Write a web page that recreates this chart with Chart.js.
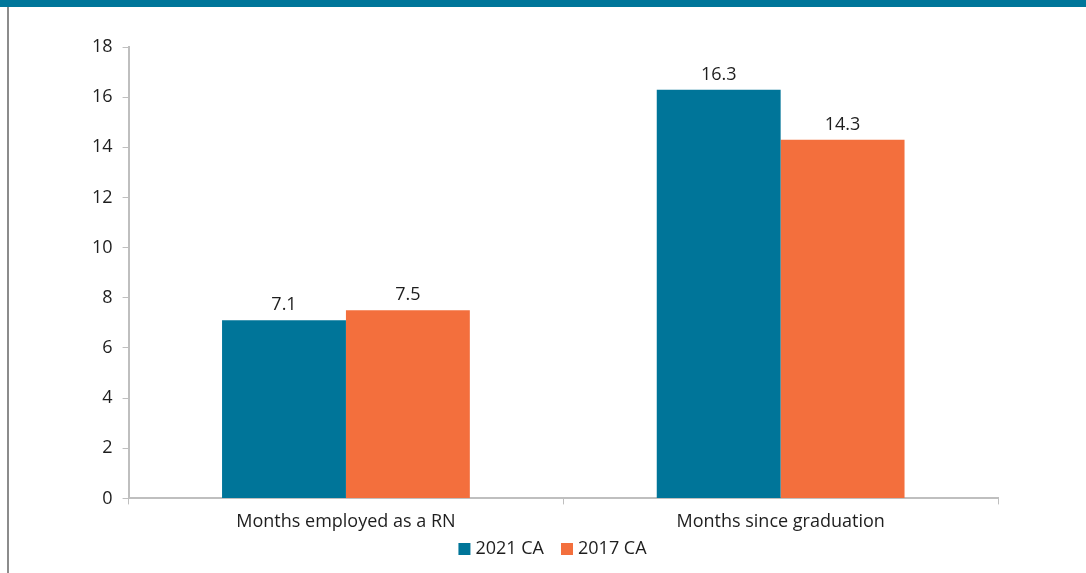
<!DOCTYPE html>
<html>
<head>
<meta charset="utf-8">
<script src="https://cdn.jsdelivr.net/npm/chart.js@4/dist/chart.umd.min.js"></script>
<style>
  html, body { margin: 0; padding: 0; background: #fff; }
  #band { height: 7px; background: #00769a; }
  #frame { position: absolute; top: 7px; left: 7px; width: 1079px; height: 566px; border-left: 2px solid #8c8c8c; }
  #wrap { position: relative; width: 1077px; height: 566px; }
</style>
</head>
<body>
<div id="band"></div>
<div id="frame">
  <div id="wrap"><canvas id="chart"></canvas></div>
</div>
<script>
const categories = ['Months employed as a RN', 'Months since graduation'];
const series2021 = [7.1, 16.3];
const series2017 = [7.5, 14.3];
const seriesNames = ['2021 CA', '2017 CA'];
const yTicks = [0, 2, 4, 6, 8, 10, 12, 14, 16, 18];

const FONT = "'Open Sans', 'Liberation Sans', sans-serif";
const FSIZE = 18;
const axisColor = '#bfbfbf';
const textColor = '#1e1e1e';

// valeurs au-dessus des barres
const barLabels = {
  id: 'barLabels',
  afterDatasetsDraw(chart) {
    const ctx = chart.ctx;
    ctx.save();
    ctx.font = FSIZE + 'px ' + FONT;
    ctx.fillStyle = textColor;
    ctx.textAlign = 'center';
    ctx.textBaseline = 'alphabetic';
    chart.data.datasets.forEach((ds, i) => {
      chart.getDatasetMeta(i).data.forEach((bar, j) => {
        ctx.fillText(ds.data[j].toFixed(1), bar.x, bar.y - 10);
      });
    });
    ctx.restore();
  }
};

// légende en bas, dessinée à la main pour caler la position
const bottomLegend = {
  id: 'bottomLegend',
  afterDraw(chart) {
    const ctx = chart.ctx;
    ctx.save();
    ctx.font = FSIZE + 'px ' + FONT;
    ctx.textBaseline = 'middle';
    ctx.textAlign = 'left';
    const box = 12, gapText = 5, gapItem = 17;
    const items = chart.data.datasets.map(ds => ({ text: ds.label, color: ds.backgroundColor, w: ctx.measureText(ds.label).width }));
    let total = 0;
    items.forEach((it, i) => { total += box + gapText + it.w + (i < items.length - 1 ? gapItem : 0); });
    let x = chart.width / 2 + 5 - total / 2;
    const y = 542;
    items.forEach(it => {
      ctx.fillStyle = it.color;
      ctx.fillRect(x, y - box / 2, box, box);
      x += box + gapText;
      ctx.fillStyle = textColor;
      ctx.fillText(it.text, x, y);
      x += it.w + gapItem;
    });
    ctx.restore();
  }
};

new Chart(document.getElementById('chart'), {
  type: 'bar',
  data: {
    labels: categories,
    datasets: [
      { label: seriesNames[0], data: series2021, backgroundColor: '#007599' },
      { label: seriesNames[1], data: series2017, backgroundColor: '#f36f3d' }
    ]
  },
  options: {
    responsive: true,
    maintainAspectRatio: false,
    animation: false,
    layout: { padding: { top: 40, right: 88, left: 73, bottom: 33 } },
    datasets: { bar: { barPercentage: 1, categoryPercentage: 0.57 } },
    plugins: {
      legend: { display: false },
      tooltip: { enabled: false }
    },
    scales: {
      x: {
        grid: { display: true, drawOnChartArea: false, drawTicks: true, tickLength: 6, color: axisColor, offset: true },
        border: { color: axisColor, width: 2 },
        ticks: { font: { size: FSIZE, family: FONT }, color: textColor, padding: 7 }
      },
      y: {
        min: 0,
        max: 18,
        afterBuildTicks(axis) { axis.ticks = yTicks.map(v => ({ value: v })); },
        grid: { display: true, drawOnChartArea: false, drawTicks: true, tickLength: 6, color: axisColor },
        border: { color: axisColor, width: 2 },
        ticks: { font: { size: FSIZE, family: FONT }, color: textColor, padding: 10 }
      }
    }
  },
  plugins: [barLabels, bottomLegend]
});
</script>
</body>
</html>
